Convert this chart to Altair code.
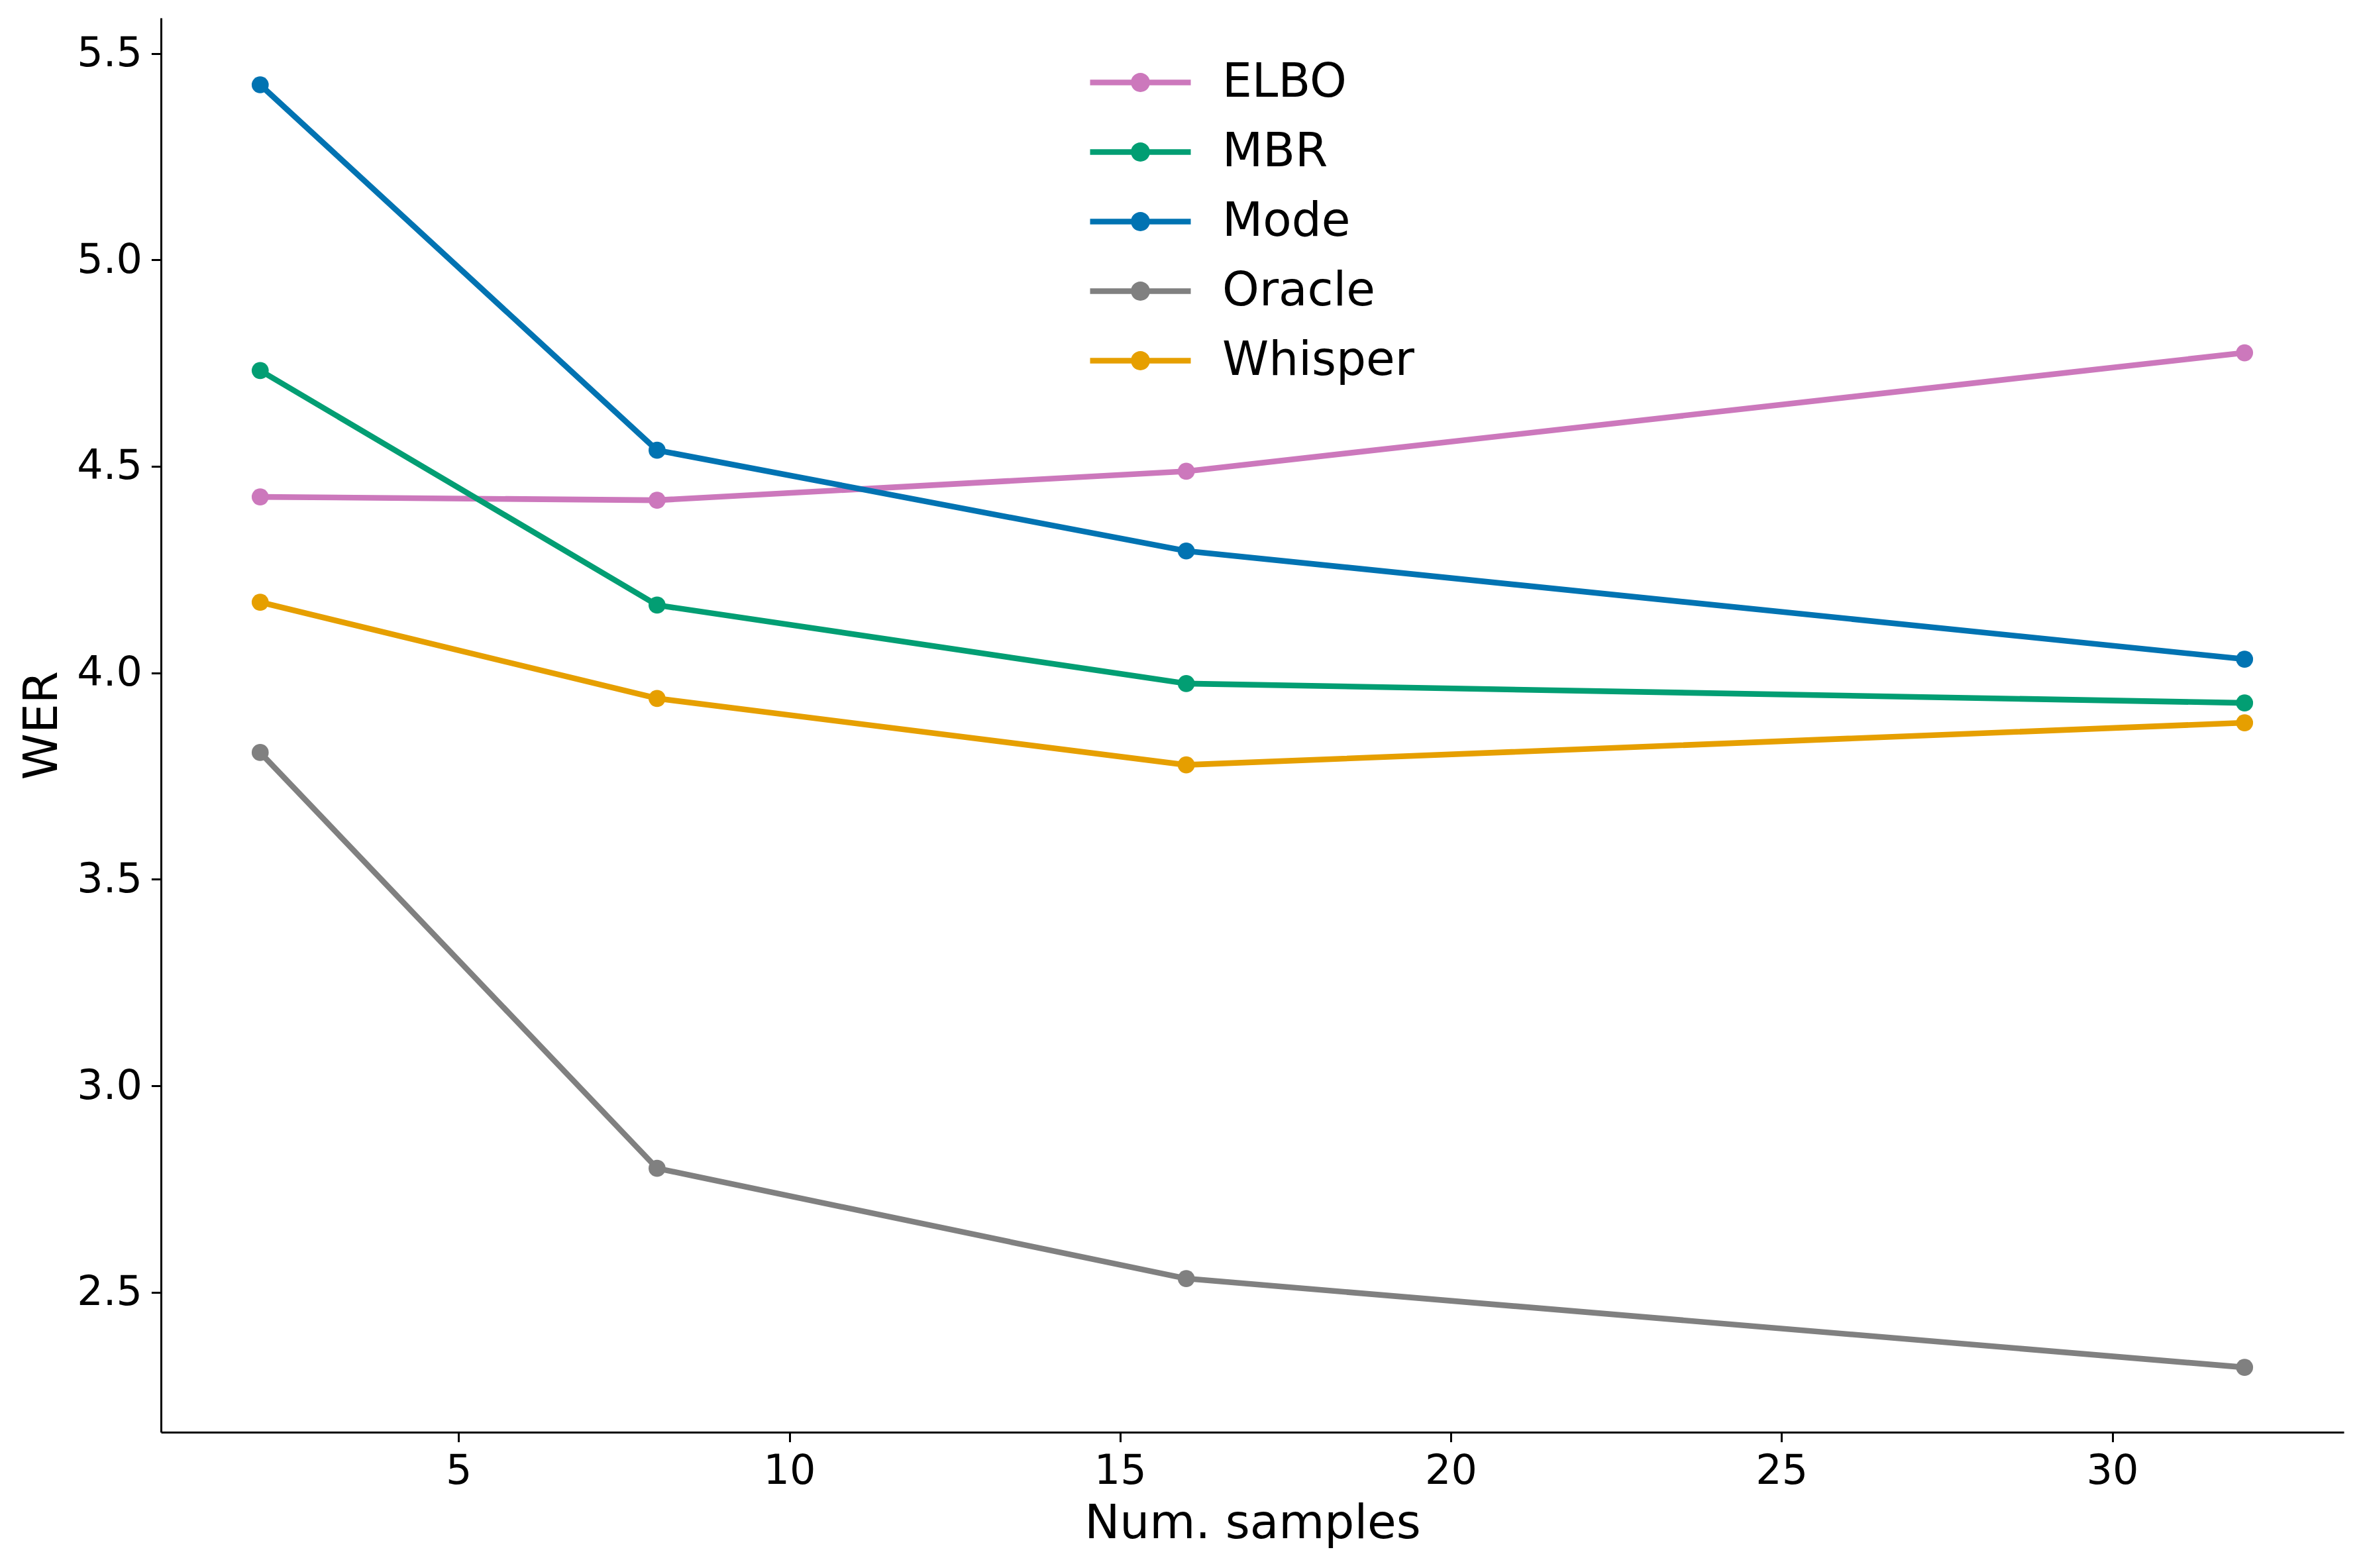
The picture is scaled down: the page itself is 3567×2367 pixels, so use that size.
import altair as alt
import pandas as pd

samples = [2, 8, 16, 32]
methods = ["ELBO", "MBR", "Mode", "Oracle", "Whisper"]
colors = ["#cc78bc", "#029e73", "#0173b2", "#808080", "#e69f00"]
elbo = [4.426, 4.418, 4.488, 4.775]
mbr = [4.732, 4.164, 3.974, 3.927]
mode = [5.424, 4.539, 4.295, 4.033]
oracle = [3.807, 2.800, 2.533, 2.318]
whisper = [4.171, 3.938, 3.777, 3.879]

series = {"ELBO": elbo, "MBR": mbr, "Mode": mode, "Oracle": oracle, "Whisper": whisper}
rows = []
for m in methods:
    for s, v in zip(samples, series[m]):
        rows.append({"samples": s, "WER": v, "method": m})
df = pd.DataFrame(rows)

FONT = "DejaVu Sans"
legend_path = ("M-3.04,-0.172 H3.04 V0.172 H-3.04 Z "
               "M0.576,0 A0.576,0.576 0 1,1 -0.576,0 A0.576,0.576 0 1,1 0.576,0 Z")

x = alt.X("samples:Q", title="Num. samples",
          scale=alt.Scale(domain=[0.5, 33.5], nice=False, zero=False),
          axis=alt.Axis(values=[5, 10, 15, 20, 25, 30], grid=False))
y = alt.Y("WER:Q", title="WER",
          scale=alt.Scale(domain=[2.161, 5.586], nice=False, zero=False),
          axis=alt.Axis(values=[2.5, 3.0, 3.5, 4.0, 4.5, 5.0, 5.5], format=".1f", grid=False))
color = alt.Color("method:N", scale=alt.Scale(domain=methods, range=colors),
                  legend=alt.Legend(title=None, orient="none", legendX=1443, legendY=62,
                                    symbolType=legend_path, symbolSize=2500,
                                    symbolStrokeWidth=0, symbolOpacity=1,
                                    labelFontSize=71, labelFont=FONT, labelOffset=88,
                                    labelLimit=1000,
                                    rowPadding=33, labelColor="black"))

base = alt.Chart(df)
lines = base.mark_line(strokeWidth=8.6).encode(x=x, y=y, color=color)
points = base.mark_circle(size=660, opacity=1).encode(x=x, y=y, color=color)

chart = alt.layer(lines, points).properties(
    width=3295, height=2135,
    autosize=alt.AutoSizeParams(type="none"),
    padding={"left": 235, "top": 19, "right": 21, "bottom": 197},
).configure_view(stroke=None).configure_axis(
    domainColor="black", domainWidth=3, tickColor="black", tickWidth=3, tickSize=14.6,
    labelFont=FONT, labelFontSize=62, labelColor="black", labelPadding=14,
    titleFont=FONT, titleFontSize=71, titleFontWeight="normal", titleColor="black",
).configure_axisX(titlePadding=14).configure_axisY(titlePadding=15)

chart.save("out.html", embed_options={"renderer": "svg", "actions": False})
